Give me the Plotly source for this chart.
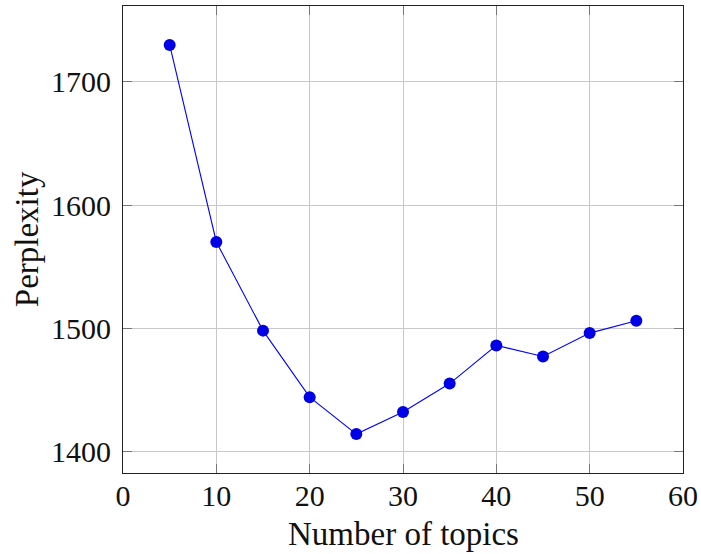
import plotly.graph_objects as go

topics = [5, 10, 15, 20, 25, 30, 35, 40, 45, 50, 55]
perplexity = [1730, 1570, 1498, 1444, 1414, 1432, 1455, 1486, 1477, 1496, 1506]
x_ticks = [0, 10, 20, 30, 40, 50, 60]
y_ticks = [1400, 1500, 1600, 1700]
x_title = "Number of topics"
y_title = "Perplexity"

FONT = "Liberation Serif"
TXT = "#111111"

fig = go.Figure()
fig.add_trace(go.Scatter(
    x=topics, y=perplexity, mode="lines+markers",
    line=dict(color="#0000ff", width=1.1),
    marker=dict(color="#0000e6", size=12, line=dict(width=0)),
    showlegend=False,
))

axis_common = dict(
    showgrid=True, gridcolor="#c8c8c8", gridwidth=1,
    showline=True, linecolor="#222222", linewidth=1.2,
    mirror="allticks", ticks="inside", ticklen=9, tickcolor="#777777", tickwidth=1,
    zeroline=False, automargin=False,
    tickfont=dict(family=FONT, size=30, color=TXT),
)

fig.update_xaxes(range=[0, 60], tickvals=x_ticks, ticklabelstandoff=-4, **axis_common)
fig.update_yaxes(range=[1382.4, 1761.6], tickvals=y_ticks, ticklabelstandoff=5, **axis_common)

fig.add_annotation(
    text=x_title, xref="paper", yref="paper", x=0.5, y=-0.13,
    xanchor="center", yanchor="middle", showarrow=False,
    font=dict(family=FONT, size=33, color=TXT),
)
fig.add_annotation(
    text=y_title, xref="paper", yref="paper", x=-0.172, y=0.5,
    xanchor="center", yanchor="middle", showarrow=False, textangle=-90,
    font=dict(family=FONT, size=33, color=TXT),
)

fig.update_layout(
    width=701, height=554,
    margin=dict(l=123, r=18, t=6, b=81),
    plot_bgcolor="white", paper_bgcolor="white",
)

fig.write_html("out.html", config={"displayModeBar": False},
               post_script="document.body.style.margin='0';")
